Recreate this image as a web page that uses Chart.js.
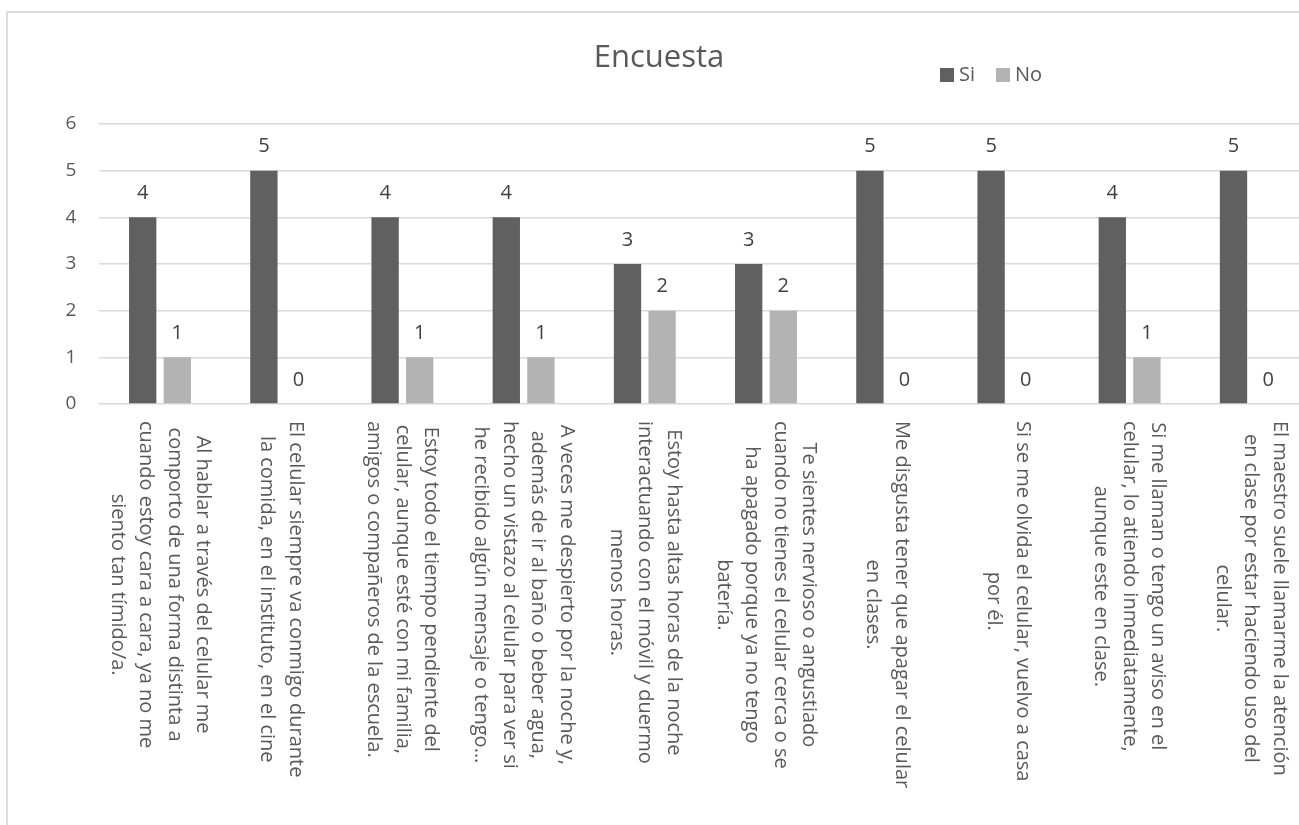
<!DOCTYPE html>
<html>
<head>
<meta charset="utf-8">
<script src="https://cdn.jsdelivr.net/npm/chart.js@4.4.1/dist/chart.umd.min.js"></script>
<style>
  html, body { margin: 0; padding: 0; background: #fff; overflow: hidden; width: 1299px; height: 825px; }
  #frame { position: absolute; left: 6px; top: 11px; width: 1330px; height: 840px; border: 2px solid #dcdcdc; box-sizing: border-box; }
  #wrap { position: absolute; left: 0; top: 0; width: 1330px; height: 825px; }
</style>
</head>
<body>
<div id="frame"></div>
<div id="wrap"><canvas id="c" width="1330" height="825"></canvas></div>
<script>
// Survey questions (each entry is one wrapped label, line by line)
const categories = [
  ["Al hablar a través del celular me", "comporto de una forma distinta a", "cuando estoy cara a cara, ya no me", "siento tan tímido/a."],
  ["El celular siempre va conmigo durante", "la comida, en el instituto, en el cine"],
  ["Estoy todo el tiempo pendiente del", "celular, aunque esté con mi familia,", "amigos o compañeros de la escuela."],
  ["A veces me despierto por la noche y,", "además de ir al baño o beber agua,", "hecho un vistazo al celular para ver si", "he recibido algún mensaje o tengo…"],
  ["Estoy hasta altas horas de la noche", "interactuando con el móvil y duermo", "menos horas."],
  ["Te sientes nervioso o angustiado", "cuando no tienes el celular cerca o se", "ha apagado porque ya no tengo", "batería."],
  ["Me disgusta tener que apagar el celular", "en clases."],
  ["Si se me olvida el celular, vuelvo a casa", "por él."],
  ["Si me llaman o tengo un aviso en el", "celular, lo atiendo inmediatamente,", "aunque este en clase."],
  ["El maestro suele llamarme la atención", "en clase por estar haciendo uso del", "celular."]
];
const siValues = [4, 5, 4, 4, 3, 3, 5, 5, 4, 5];
const noValues = [1, 0, 1, 1, 2, 2, 0, 0, 1, 0];
const seriesNames = ["Si", "No"];
const yTickValues = [0, 1, 2, 3, 4, 5, 6];
const chartTitle = "Encuesta";

const FONT = '"Open Sans", "Segoe UI", sans-serif';
const TEXT = '#595959';
const COLORS = ['#606060', '#b3b3b3'];

// Title and legend in the header band
const headerPlugin = {
  id: 'header',
  afterDraw(chart) {
    const ctx = chart.ctx;
    ctx.save();
    ctx.fillStyle = TEXT;
    ctx.font = '31px ' + FONT;
    ctx.textAlign = 'center';
    ctx.textBaseline = 'alphabetic';
    ctx.fillText(chartTitle, 659, 67);

    const legendX = [940, 996];
    ctx.font = '20px ' + FONT;
    ctx.textAlign = 'left';
    ctx.textBaseline = 'middle';
    chart.data.datasets.forEach((ds, i) => {
      ctx.fillStyle = ds.backgroundColor;
      ctx.fillRect(legendX[i], 68, 14, 14);
      ctx.fillStyle = TEXT;
      ctx.fillText(ds.label, legendX[i] + 19, 75);
    });
    ctx.restore();
  }
};

// Value labels above every bar
const valueLabelPlugin = {
  id: 'valueLabels',
  afterDatasetsDraw(chart) {
    const ctx = chart.ctx;
    ctx.save();
    ctx.fillStyle = '#404040';
    ctx.font = '20px ' + FONT;
    ctx.textAlign = 'center';
    ctx.textBaseline = 'middle';
    chart.data.datasets.forEach((ds, i) => {
      const meta = chart.getDatasetMeta(i);
      meta.data.forEach((bar, j) => {
        ctx.fillText(String(ds.data[j]), bar.x, bar.y - 24);
      });
    });
    ctx.restore();
  }
};

// Category labels turned a quarter clockwise, lines centred on each other
const rotatedLabelPlugin = {
  id: 'rotatedLabels',
  afterDraw(chart) {
    const ctx = chart.ctx;
    const xScale = chart.scales.x;
    const top = xScale.top + 17;
    const lineHeight = 28.5;
    ctx.save();
    ctx.fillStyle = TEXT;
    ctx.font = '20px ' + FONT;
    ctx.textAlign = 'center';
    ctx.textBaseline = 'middle';
    chart.data.labels.forEach((lines, i) => {
      const x = xScale.getPixelForValue(i);
      const w = Math.max(...lines.map(l => ctx.measureText(l).width));
      ctx.save();
      ctx.translate(x, top + w / 2);
      ctx.rotate(Math.PI / 2);
      const n = lines.length;
      lines.forEach((line, k) => {
        ctx.fillText(line, 0, (k - (n - 1) / 2) * lineHeight);
      });
      ctx.restore();
    });
    ctx.restore();
  }
};

new Chart(document.getElementById('c'), {
  type: 'bar',
  data: {
    labels: categories,
    datasets: [
      { label: seriesNames[0], data: siValues, backgroundColor: COLORS[0] },
      { label: seriesNames[1], data: noValues, backgroundColor: COLORS[1] }
    ]
  },
  options: {
    responsive: false,
    animation: false,
    devicePixelRatio: 1,
    layout: { padding: { left: 0, right: 18.6, top: 124, bottom: 0 } },
    datasets: { bar: { categoryPercentage: 0.571, barPercentage: 0.79 } },
    plugins: {
      legend: { display: false },
      title: { display: false },
      tooltip: { enabled: false }
    },
    scales: {
      x: {
        grid: { display: false, drawTicks: false },
        border: { display: false },
        ticks: { display: false },
        afterFit(scale) { scale.height = 421; }
      },
      y: {
        min: 0,
        max: 6,
        afterBuildTicks(scale) { scale.ticks = yTickValues.map(v => ({ value: v })); },
        grid: { color: '#d9d9d9', lineWidth: 1.5, drawTicks: false },
        border: { display: false },
        ticks: { color: TEXT, font: { family: FONT, size: 19 }, padding: 23 },
        afterFit(scale) { scale.width = 99.4; }
      }
    }
  },
  plugins: [headerPlugin, valueLabelPlugin, rotatedLabelPlugin]
});
</script>
</body>
</html>
